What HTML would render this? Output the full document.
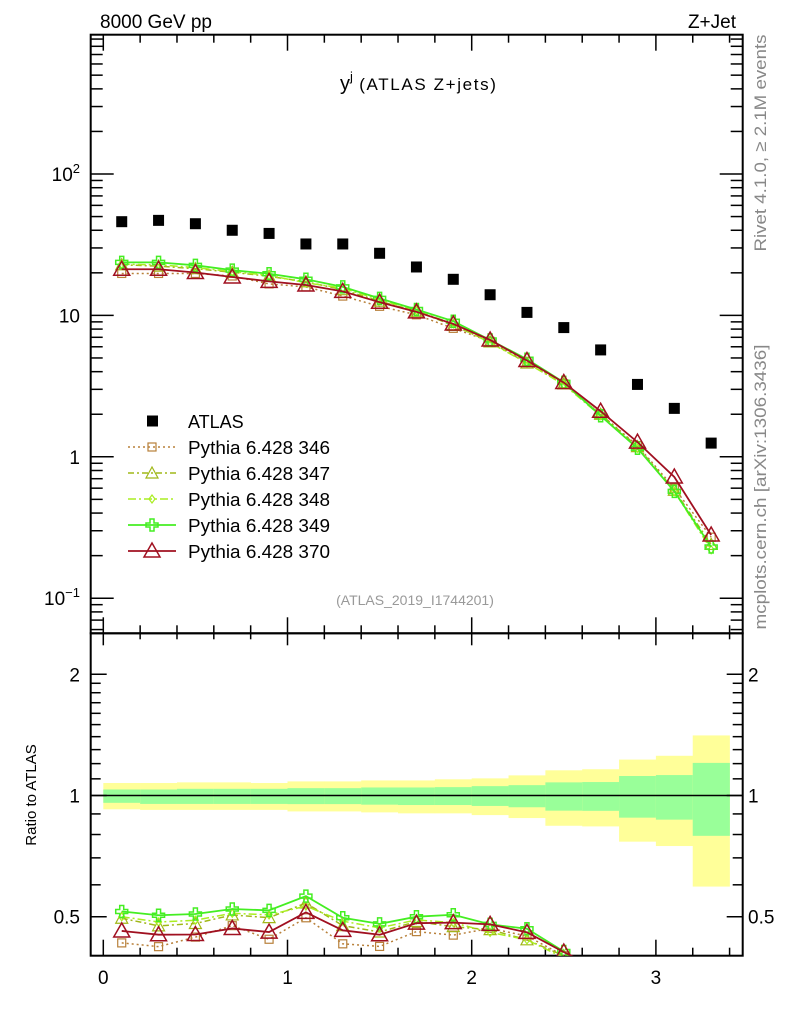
<!DOCTYPE html>
<html><head><meta charset="utf-8">
<style>
html,body{margin:0;padding:0;background:#fff;overflow:hidden;width:786px;height:1024px;}
svg{display:block;font-family:"Liberation Sans",sans-serif;}
</style></head>
<body>
<svg id="chart" width="786" height="1024" viewBox="0 0 786 1024" xmlns="http://www.w3.org/2000/svg">
<text x="100" y="28" font-size="19">8000 GeV pp</text>
<text x="736" y="28" font-size="19" text-anchor="end">Z+Jet</text>
<text x="340" y="90" font-size="20">y<tspan dy="-9" font-size="13">j</tspan><tspan dy="9" font-size="17" textLength="143"> (ATLAS Z+jets)</tspan></text>
<text x="415" y="605" font-size="14" fill="#999" text-anchor="middle">(ATLAS_2019_I1744201)</text>
<text transform="translate(766,143) rotate(-90)" font-size="17" fill="#888" text-anchor="middle" textLength="217" lengthAdjust="spacingAndGlyphs">Rivet 4.1.0, ≥ 2.1M events</text>
<text transform="translate(766,487) rotate(-90)" font-size="17" fill="#888" text-anchor="middle" textLength="285" lengthAdjust="spacingAndGlyphs">mcplots.cern.ch [arXiv:1306.3436]</text>
<text transform="translate(36,795) rotate(-90)" font-size="15" text-anchor="middle">Ratio to ATLAS</text>
<g id="g"></g>
</svg>
<script>
const binLo=[0,0.2,0.4,0.6,0.8,1.0,1.2,1.4,1.6,1.8,2.0,2.2,2.4,2.6,2.8,3.0,3.2];
const xCenters=[0.1,0.3,0.5,0.7,0.9,1.1,1.3,1.5,1.7,1.9,2.1,2.3,2.5,2.7,2.9,3.1,3.3];
const atlas=[46,47,44.5,40,38,32,32,27.5,22,18,14,10.5,8.2,5.7,3.25,2.2,1.25];
const py346=[19.8,19.8,19.8,19.0,16.7,15.9,13.7,11.6,10.1,8.1,6.55,4.7,3.28,2.0,1.2,0.6,0.27];
const py347=[22.8,22.3,21.4,20.2,18.9,17.3,15.2,12.6,10.7,8.5,6.5,4.6,3.28,2.0,1.18,0.58,0.24];
const py348=[23.0,22.8,21.8,20.4,19.2,17.0,15.6,12.9,10.8,8.7,6.4,4.6,3.24,1.95,1.15,0.57,0.22];
const py349=[23.7,23.7,22.6,20.9,19.7,18.0,15.9,13.2,11.0,9.1,6.7,4.9,3.36,1.95,1.15,0.57,0.23];
const py370=[21.2,21.2,20.1,18.7,17.4,16.4,14.8,12.4,10.6,8.7,6.7,4.8,3.35,2.1,1.27,0.72,0.28];
const yelHi=[1.074,1.074,1.078,1.078,1.074,1.084,1.084,1.090,1.090,1.097,1.103,1.122,1.155,1.162,1.228,1.255,1.41];
const yelLo=[0.924,0.921,0.921,0.921,0.921,0.913,0.913,0.908,0.903,0.903,0.894,0.879,0.841,0.838,0.768,0.749,0.594];
const grnHi=[1.035,1.035,1.039,1.039,1.039,1.043,1.043,1.047,1.047,1.049,1.055,1.061,1.078,1.080,1.118,1.124,1.205];
const grnLo=[0.959,0.953,0.953,0.953,0.953,0.952,0.952,0.949,0.947,0.947,0.942,0.935,0.917,0.916,0.881,0.871,0.794];
const binW=0.2;

const NS='http://www.w3.org/2000/svg';
const G=document.getElementById('g');
const L=90.7,R=742.7,T=34.7,MB=633.3,RB=955.7;
const X=v=>103.3+v*184.2;
const Y=v=>174-(Math.log10(v)-2)*141.4;
const YR=v=>795.5-Math.log10(v)*402.6;
function mk(tag,attrs,parent){const e=document.createElementNS(NS,tag);for(const k in attrs)e.setAttribute(k,attrs[k]);(parent||G).appendChild(e);return e;}

const defs=mk('defs',{});
const c1=mk('clipPath',{id:'cm'},defs);mk('rect',{x:L,y:T,width:R-L,height:MB-T},c1);
const c2=mk('clipPath',{id:'cr'},defs);mk('rect',{x:L,y:MB,width:R-L,height:RB-MB},c2);

const bands=mk('g',{'clip-path':'url(#cr)'});


for(let i=0;i<binLo.length;i++){
  const x0=X(binLo[i]),x1=X(binLo[i]+binW);
  const y=mk('rect',{x:x0,y:YR(yelHi[i]),width:x1-x0+0.3,height:YR(yelLo[i])-YR(yelHi[i]),fill:'#ffff99'},bands);
  
  
  const g=mk('rect',{x:x0,y:YR(grnHi[i]),width:x1-x0+0.3,height:YR(grnLo[i])-YR(grnHi[i]),fill:'#99ff99'},bands);
  
  
}
const one=mk('line',{x1:L,x2:R,y1:YR(1),y2:YR(1),stroke:'#000','stroke-width':1.5});



function frame(y0,y1,name){const r=mk('rect',{x:L,y:y0,width:R-L,height:y1-y0,fill:'none',stroke:'#000','stroke-width':2});}
frame(T,MB,'main-panel-frame');frame(MB,RB,'ratio-panel-frame');
const ticks=mk('g',{stroke:'#000','stroke-width':1.5});


for(let k=0;k<=17;k++){const v=k*0.2;const xx=X(v);const maj=k%5===0;const len=maj?16:8;
  mk('line',{x1:xx,x2:xx,y1:T,y2:T+len},ticks);mk('line',{x1:xx,x2:xx,y1:MB,y2:MB-len},ticks);
  mk('line',{x1:xx,x2:xx,y1:MB,y2:MB+(maj?12:6)},ticks);mk('line',{x1:xx,x2:xx,y1:RB,y2:RB-len},ticks);}
for(let d=-2;d<=2;d++)for(let m=1;m<=9;m++){const v=m*Math.pow(10,d);const yy=Y(v);if(yy<T||yy>MB)continue;const len=m===1?23:12;
  mk('line',{x1:L,x2:L+len,y1:yy,y2:yy},ticks);mk('line',{x1:R,x2:R-len,y1:yy,y2:yy},ticks);}
const rt=[0.4,0.5,0.6,0.7,0.8,0.9,1,1.1,1.2,1.3,1.4,1.5,1.6,1.7,1.8,1.9,2];
rt.forEach(v=>{const yy=YR(v);if(yy<MB||yy>RB)return;const len=(v===0.5||v===1||v===2)?16:10;
  mk('line',{x1:L,x2:L+len,y1:yy,y2:yy},ticks);mk('line',{x1:R,x2:R-len,y1:yy,y2:yy},ticks);});

function txt(x,y,s,anchor,name,size){const t=mk('text',{x:x,y:y,'font-size':size||19,'text-anchor':anchor||'middle'});t.textContent=s;return t;}
['0','1','2','3'].forEach((s,i)=>txt(X(i),984,s,'middle','x-tick-label'));
const yl1=mk('text',{x:80,y:Y(100)+7,'font-size':19,'text-anchor':'end'});yl1.innerHTML='10<tspan dy="-8" font-size="13">2</tspan>';

txt(80,Y(10)+7,'10','end','y-tick-label');txt(80,Y(1)+7,'1','end','y-tick-label');
const yl2=mk('text',{x:80,y:Y(0.1)+7,'font-size':19,'text-anchor':'end'});yl2.innerHTML='10<tspan dy="-8" font-size="13">−1</tspan>';

[[2,'2'],[1,'1'],[0.5,'0.5']].forEach(([v,s])=>{txt(80,YR(v)+7,s,'end','ratio-tick-label');txt(748,YR(v)+7,s,'start','ratio-tick-label');});

function marker(par,type,x,y,color){
  if(type==='sq') mk('rect',{x:x-4,y:y-4,width:8,height:8,fill:'none',stroke:color,'stroke-width':1.2},par);
  else if(type==='tri') mk('polygon',{points:`${x},${y-6} ${x-6},${y+5} ${x+6},${y+5}`,fill:'none',stroke:color,'stroke-width':1.2},par);
  else if(type==='bigtri') mk('polygon',{points:`${x},${y-8} ${x-8},${y+6} ${x+8},${y+6}`,fill:'none',stroke:color,'stroke-width':1.5},par);
  else if(type==='dia') mk('polygon',{points:`${x},${y-4} ${x-3},${y} ${x},${y+4} ${x+3},${y}`,fill:'none',stroke:color,'stroke-width':1.2},par);
  else if(type==='plus') mk('path',{d:`M${x-2},${y-6}h4v4h4v4h-4v4h-4v-4h-4v-4h4z`,fill:'none',stroke:color,'stroke-width':1.5},par);
}
const series=[
 {d:py346,c:'#b8803a',dash:'2,3',m:'sq',name:'pythia-346',w:1.5},
 {d:py347,c:'#a0b818',dash:'6,3,2,3',m:'tri',name:'pythia-347',w:1.5},
 {d:py348,c:'#aaee22',dash:'8,3,2,3',m:'dia',name:'pythia-348',w:1.5},
 {d:py349,c:'#44ee22',dash:'',m:'plus',name:'pythia-349',w:1.8},
 {d:py370,c:'#a01020',dash:'',m:'bigtri',name:'pythia-370',w:1.8}];
series.forEach(s=>{
  const gm=mk('g',{'clip-path':'url(#cm)'});
  
  
  mk('polyline',{points:xCenters.map((x,i)=>X(x)+','+Y(s.d[i])).join(' '),fill:'none',stroke:s.c,'stroke-width':s.w,'stroke-dasharray':s.dash},gm);
  xCenters.forEach((x,i)=>marker(gm,s.m,X(x),Y(s.d[i]),s.c));
  const gr=mk('g',{'clip-path':'url(#cr)'});
  
  
  mk('polyline',{points:xCenters.map((x,i)=>X(x)+','+YR(s.d[i]/atlas[i])).join(' '),fill:'none',stroke:s.c,'stroke-width':s.w,'stroke-dasharray':s.dash},gr);
  xCenters.forEach((x,i)=>{const yy=YR(s.d[i]/atlas[i]);if(yy<RB+2)marker(gr,s.m,X(x),yy,s.c);});
});
const ga=mk('g',{});


xCenters.forEach((x,i)=>{const r=mk('rect',{x:X(x)-5.5,y:Y(atlas[i])-5.5,width:11,height:11,fill:'#000'},ga);
  });

const lg=mk('g',{});


const ly0=421,dy=26;
mk('rect',{x:147,y:ly0-5.5,width:11,height:11,fill:'#000'},lg);
const lt0=mk('text',{x:188,y:ly0+7,'font-size':18},lg);lt0.textContent='ATLAS';

series.forEach((s,i)=>{const y=ly0+dy*(i+1);
  mk('line',{x1:128,x2:176,y1:y,y2:y,stroke:s.c,'stroke-width':s.w,'stroke-dasharray':s.dash},lg);
  marker(lg,s.m,152,y,s.c);
  const t=mk('text',{x:188,y:y+7,'font-size':18,textLength:142,lengthAdjust:'spacingAndGlyphs'},lg);t.textContent='Pythia 6.428 '+s.name.split('-')[1];
  });
</script>
</body></html>
